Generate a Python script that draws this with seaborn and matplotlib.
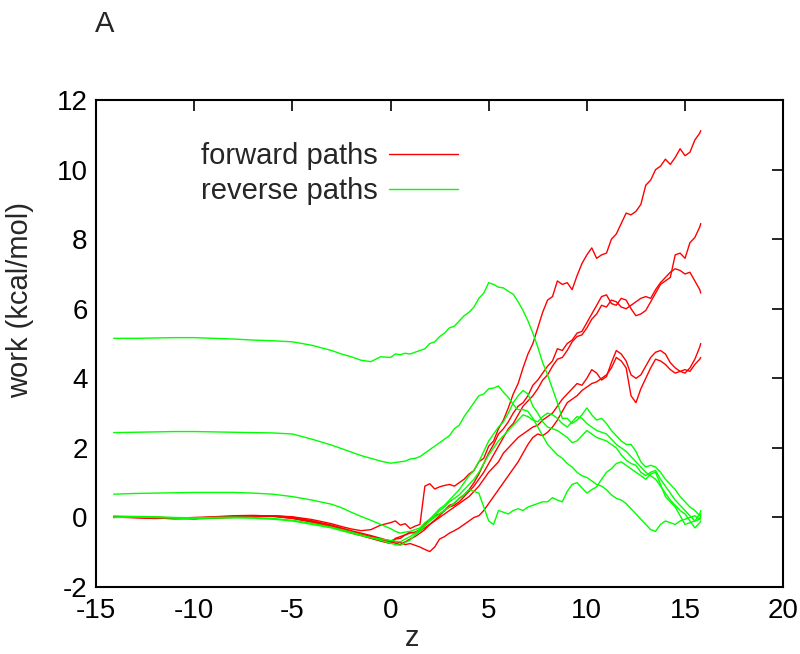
import numpy as np
import pandas as pd
import matplotlib
matplotlib.use("Agg")
import matplotlib.pyplot as plt
import seaborn as sns

# ---------------- data ----------------
z_left = [-14.1, -13, -12, -11, -10, -9, -8, -7, -6, -5, -4, -3, -2.5, -2, -1.5, -1, -0.5]
z_right = [0, 0.25, 0.5, 0.75, 1, 1.25, 1.5, 1.75, 2, 2.25, 2.5, 2.75, 3, 3.25, 3.5, 3.75,
           4, 4.25, 4.5, 4.75, 5, 5.25, 5.5, 5.75, 6, 6.25, 6.5, 6.75, 7, 7.25, 7.5, 7.75,
           8, 8.25, 8.5, 8.75, 9, 9.25, 9.5, 9.75, 10, 10.25, 10.5, 10.75, 11, 11.25, 11.5, 11.75,
           12, 12.25, 12.5, 12.75, 13, 13.25, 13.5, 13.75, 14, 14.25, 14.5, 14.75, 15, 15.25, 15.5, 15.75,
           15.8]
z = z_left + z_right

fwd_1 = [0.02, 0.00, -0.02, -0.03, -0.04, -0.02, 0.00, 0.03, 0.05, 0.02, -0.06, -0.18, -0.26, -0.33, -0.38, -0.35, -0.22,
         -0.15, -0.10, -0.22, -0.18, -0.32, -0.25, -0.20, 0.90, 0.97, 0.82, 0.88, 0.92, 0.95, 0.90, 1.00, 1.10,
         1.25, 1.35, 1.60, 1.70, 2.05, 2.20, 2.55, 2.80, 3.15, 3.55, 3.85, 4.30, 4.70, 5.00, 5.45, 5.90,
         6.25, 6.35, 6.80, 6.70, 6.75, 6.55, 6.95, 7.30, 7.55, 7.75, 7.45, 7.55, 7.60, 8.00, 8.15, 8.45,
         8.75, 8.70, 8.80, 9.00, 9.55, 9.70, 10.00, 10.10, 10.30, 10.15, 10.35, 10.60, 10.40, 10.50, 10.85, 11.05,
         11.12]
fwd_2 = [0.00, 0.02, 0.01, -0.02, -0.03, 0.00, 0.02, 0.04, 0.03, -0.02, -0.10, -0.22, -0.30, -0.38, -0.45, -0.52, -0.60,
         -0.68, -0.62, -0.60, -0.50, -0.45, -0.42, -0.35, -0.20, -0.05, 0.05, 0.10, 0.20, 0.35, 0.40, 0.55, 0.65,
         0.80, 1.00, 1.25, 1.55, 1.85, 2.10, 2.40, 2.55, 2.75, 3.00, 3.20, 3.30, 3.50, 3.80, 3.95, 4.15,
         4.35, 4.50, 4.85, 4.80, 5.00, 5.10, 5.30, 5.35, 5.60, 5.85, 6.10, 6.35, 6.40, 6.15, 6.10, 6.30,
         6.25, 6.00, 5.80, 5.85, 5.95, 6.20, 6.45, 6.70, 6.80, 6.90, 7.55, 7.60, 7.45, 7.90, 8.05, 8.35,
         8.45]
fwd_3 = [0.03, 0.01, -0.01, -0.04, -0.02, 0.01, 0.03, 0.05, 0.04, 0.00, -0.12, -0.25, -0.33, -0.42, -0.50, -0.58, -0.64,
         -0.70, -0.74, -0.78, -0.70, -0.62, -0.55, -0.45, -0.35, -0.20, -0.08, 0.05, 0.20, 0.30, 0.35, 0.45, 0.60,
         0.75, 0.90, 1.10, 1.30, 1.55, 1.80, 2.05, 2.30, 2.55, 2.70, 2.95, 3.20, 3.35, 3.50, 3.70, 3.95,
         4.10, 4.35, 4.55, 4.60, 4.80, 5.05, 5.20, 5.25, 5.45, 5.70, 5.85, 6.10, 6.05, 6.25, 6.20, 6.05,
         6.00, 6.10, 6.20, 6.30, 6.35, 6.30, 6.55, 6.75, 6.90, 7.05, 7.15, 7.10, 7.00, 7.05, 6.80, 6.55,
         6.45]
fwd_4 = [0.01, -0.01, -0.03, -0.02, 0.00, 0.02, 0.05, 0.06, 0.04, -0.03, -0.14, -0.28, -0.36, -0.45, -0.52, -0.60, -0.68,
         -0.75, -0.60, -0.55, -0.50, -0.42, -0.45, -0.38, -0.30, -0.20, -0.10, 0.00, 0.10, 0.20, 0.30, 0.40, 0.50,
         0.60, 0.75, 0.90, 1.10, 1.30, 1.45, 1.60, 1.85, 2.00, 2.15, 2.30, 2.40, 2.50, 2.60, 2.65, 2.80,
         2.90, 3.00, 3.20, 3.40, 3.55, 3.70, 3.85, 3.80, 4.00, 4.25, 4.15, 3.95, 4.05, 4.45, 4.80, 4.70,
         4.50, 4.10, 4.00, 4.10, 4.35, 4.60, 4.75, 4.80, 4.70, 4.45, 4.30, 4.20, 4.15, 4.30, 4.55, 4.90,
         5.00]
fwd_5 = [0.02, 0.01, 0.00, -0.01, -0.03, -0.01, 0.02, 0.04, 0.05, 0.01, -0.10, -0.24, -0.32, -0.40, -0.48, -0.55, -0.62,
         -0.68, -0.70, -0.72, -0.78, -0.75, -0.80, -0.85, -0.92, -0.98, -0.85, -0.62, -0.55, -0.45, -0.38, -0.30, -0.20,
         -0.10, 0.00, 0.05, 0.20, 0.40, 0.60, 0.80, 1.00, 1.20, 1.40, 1.60, 1.85, 2.10, 2.30, 2.40, 2.35,
         2.45, 2.60, 2.80, 3.05, 3.30, 3.40, 3.50, 3.65, 3.75, 3.85, 3.90, 4.00, 4.10, 4.30, 4.60, 4.50,
         4.30, 3.50, 3.30, 3.70, 4.00, 4.30, 4.55, 4.50, 4.40, 4.25, 4.15, 4.20, 4.25, 4.20, 4.40, 4.55,
         4.60]

rev_1 = [5.15, 5.15, 5.16, 5.17, 5.17, 5.15, 5.13, 5.10, 5.08, 5.05, 4.95, 4.80, 4.70, 4.62, 4.52, 4.48, 4.62,
         4.60, 4.70, 4.68, 4.72, 4.70, 4.75, 4.80, 4.85, 5.00, 5.05, 5.20, 5.30, 5.45, 5.50, 5.65, 5.80,
         5.90, 6.05, 6.30, 6.45, 6.75, 6.70, 6.62, 6.60, 6.50, 6.42, 6.20, 5.95, 5.65, 5.30, 4.90, 4.45,
         4.10, 3.70, 3.30, 2.85, 2.85, 2.70, 2.80, 2.95, 3.15, 2.95, 2.80, 2.85, 2.70, 2.50, 2.35, 2.20,
         2.10, 2.10, 1.90, 1.60, 1.45, 1.50, 1.45, 1.30, 1.10, 0.95, 0.80, 0.60, 0.45, 0.30, 0.20, 0.05,
         0.10]
rev_2 = [2.44, 2.45, 2.46, 2.47, 2.47, 2.46, 2.45, 2.44, 2.43, 2.40, 2.25, 2.08, 1.98, 1.88, 1.78, 1.70, 1.62,
         1.56, 1.58, 1.60, 1.62, 1.68, 1.70, 1.75, 1.85, 1.95, 2.05, 2.15, 2.25, 2.35, 2.55, 2.65, 2.90,
         3.10, 3.30, 3.50, 3.55, 3.70, 3.72, 3.78, 3.60, 3.45, 3.25, 3.10, 3.10, 3.05, 2.85, 2.60, 2.35,
         2.10, 1.95, 1.80, 1.70, 1.55, 1.45, 1.30, 1.20, 1.15, 1.05, 0.95, 0.90, 0.80, 0.65, 0.55, 0.50,
         0.40, 0.25, 0.10, -0.05, -0.20, -0.35, -0.40, -0.20, -0.10, -0.15, -0.20, -0.10, -0.05, 0.00, 0.05, -0.05,
         0.00]
rev_3 = [0.67, 0.69, 0.70, 0.71, 0.72, 0.72, 0.72, 0.70, 0.67, 0.60, 0.50, 0.38, 0.28, 0.15, 0.03, -0.08, -0.20,
         -0.32, -0.40, -0.45, -0.42, -0.40, -0.35, -0.30, -0.15, -0.05, 0.10, 0.25, 0.35, 0.50, 0.65, 0.80, 1.00,
         1.20, 1.35, 1.60, 1.90, 2.20, 2.40, 2.60, 2.75, 3.00, 3.30, 3.50, 3.65, 3.55, 3.20, 3.00, 2.75,
         2.60, 2.55, 2.50, 2.40, 2.30, 2.15, 2.20, 2.35, 2.50, 2.40, 2.30, 2.25, 2.20, 2.10, 2.00, 1.80,
         1.65, 1.55, 1.50, 1.30, 1.20, 1.30, 1.35, 1.10, 0.90, 0.70, 0.50, 0.35, 0.20, 0.05, -0.10, -0.05,
         0.05]
rev_4 = [0.04, 0.03, 0.02, 0.00, -0.01, 0.00, 0.01, 0.00, -0.03, -0.08, -0.17, -0.28, -0.35, -0.42, -0.50, -0.58, -0.66,
         -0.74, -0.78, -0.80, -0.72, -0.65, -0.50, -0.40, -0.25, -0.10, 0.05, 0.20, 0.30, 0.45, 0.55, 0.65, 0.80,
         0.95, 1.10, 1.30, 1.55, 1.80, 2.00, 2.20, 2.35, 2.50, 2.65, 2.80, 2.95, 2.90, 2.80, 2.75, 2.90,
         3.00, 2.95, 2.85, 2.70, 2.60, 2.75, 2.90, 2.85, 2.70, 2.60, 2.50, 2.45, 2.40, 2.25, 2.10, 2.00,
         1.90, 1.75, 1.60, 1.45, 1.30, 1.20, 1.10, 0.90, 0.70, 0.50, 0.35, 0.20, 0.10, -0.10, -0.30, -0.15,
         -0.10]
rev_5 = [0.00, 0.01, 0.00, -0.02, -0.03, -0.02, -0.01, -0.02, -0.05, -0.10, -0.20, -0.30, -0.38, -0.45, -0.52, -0.58, -0.62,
         -0.66, -0.68, -0.70, -0.62, -0.55, -0.45, -0.35, -0.22, -0.10, 0.00, 0.10, 0.20, 0.30, 0.42, 0.55, 0.65,
         0.80, 0.75, 0.70, 0.30, -0.10, -0.20, 0.20, 0.15, 0.10, 0.20, 0.25, 0.20, 0.30, 0.35, 0.40, 0.45,
         0.45, 0.57, 0.50, 0.45, 0.75, 0.95, 1.00, 0.85, 0.70, 0.80, 0.88, 1.10, 1.30, 1.40, 1.55, 1.60,
         1.50, 1.40, 1.30, 1.20, 1.10, 1.25, 1.30, 0.95, 0.60, 0.45, 0.30, 0.05, -0.20, -0.15, -0.10, 0.10,
         0.20]

forward_paths = [fwd_1, fwd_2, fwd_3, fwd_4, fwd_5]
reverse_paths = [rev_1, rev_2, rev_3, rev_4, rev_5]

x_ticks = [-15, -10, -5, 0, 5, 10, 15, 20]
y_ticks = [-2, 0, 2, 4, 6, 8, 10, 12]

# ---------------- long-form table ----------------
rows = []
for label, group in (("forward paths", forward_paths), ("reverse paths", reverse_paths)):
    for k, vals in enumerate(group):
        for zz, w in zip(z, vals):
            rows.append({"z": zz, "work": w, "set": label, "path": f"{label}-{k}"})
df = pd.DataFrame(rows)

# ---------------- style ----------------
sns.set_theme(style="white")
plt.rcParams["font.family"] = ["Liberation Sans", "DejaVu Sans"]
plt.rcParams["axes.unicode_minus"] = False
TICK_FS = 20
LAB_FS = 21

fig = plt.figure(figsize=(8, 6.54), dpi=100)
ax = fig.add_axes([0.12, 0.1024, 0.979 - 0.12, 0.847 - 0.1024])

sns.lineplot(data=df, x="z", y="work", hue="set", units="path", estimator=None,
             hue_order=["forward paths", "reverse paths"],
             palette={"forward paths": "#ff0000", "reverse paths": "#00ff00"},
             linewidth=1.0, sort=False, ax=ax)

ax.set_xlim(-15, 20)
ax.set_ylim(-2, 12)
ax.set_xticks(x_ticks)
ax.set_yticks(y_ticks)
ax.tick_params(direction="in", length=8, width=1.2, top=True, right=True,
               labelsize=TICK_FS, colors="black")
ax.tick_params(axis="y", pad=6)
ax.tick_params(axis="x", pad=8)
for s in ax.spines.values():
    s.set_color("black")
    s.set_linewidth(1.5)

ax.set_xlabel("z", fontsize=LAB_FS)
ax.set_ylabel("work (kcal/mol)", fontsize=LAB_FS)
ax.xaxis.set_label_coords((412 - 96) / 687, (587 - 638) / 487)
ax.xaxis.label.set_va("center")
ax.yaxis.set_label_coords((20 - 96) / 687, (587 - 300) / 487)
ax.yaxis.label.set_va("center")
ax.yaxis.label.set_ha("center")

handles, labels = ax.get_legend_handles_labels()
leg = ax.legend(handles, labels, loc="upper left", bbox_to_anchor=(0.131, 0.943),
                markerfirst=False, frameon=False, fontsize=LAB_FS, borderpad=0,
                handlelength=2.35, handletextpad=0.4, labelspacing=0.22)
for h in leg.legend_handles:
    h.set_linewidth(1.0)

fig.text(0.119, 0.963, "A", fontsize=LAB_FS, ha="left", va="center")

fig.savefig("out.png", dpi=100)
